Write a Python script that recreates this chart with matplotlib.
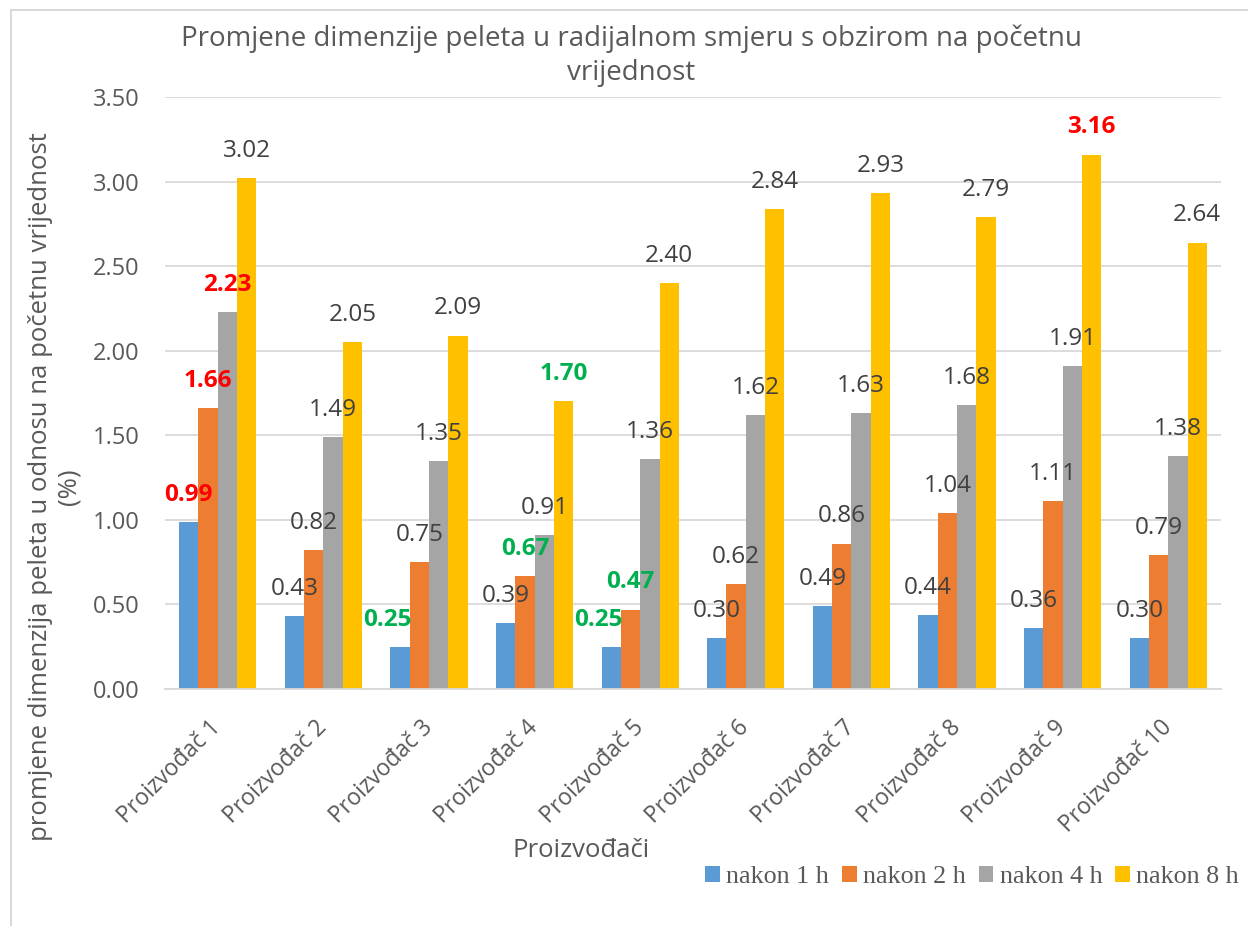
import matplotlib.pyplot as plt
import numpy as np
from matplotlib.lines import Line2D

# data
producers = ['Proizvođač %d' % i for i in range(1, 11)]
series_names = ['nakon 1 h', 'nakon 2 h', 'nakon 4 h', 'nakon 8 h']
after_1h = [0.99, 0.43, 0.25, 0.39, 0.25, 0.30, 0.49, 0.44, 0.36, 0.30]
after_2h = [1.66, 0.82, 0.75, 0.67, 0.47, 0.62, 0.86, 1.04, 1.11, 0.79]
after_4h = [2.23, 1.49, 1.35, 0.91, 1.36, 1.62, 1.63, 1.68, 1.91, 1.38]
after_8h = [3.02, 2.05, 2.09, 1.70, 2.40, 2.84, 2.93, 2.79, 3.16, 2.64]
y_ticks = [0.0, 0.5, 1.0, 1.5, 2.0, 2.5, 3.0, 3.5]

colors = ['#5B9BD5', '#ED7D31', '#A5A5A5', '#FFC000']
# highlighted labels: (series index, producer index) -> colour
red = '#FF0000'
green = '#00B050'
highlight = {(0, 0): red, (1, 0): red, (2, 0): red, (3, 8): red,
             (0, 2): green, (1, 3): green, (3, 3): green,
             (0, 4): green, (1, 4): green}
label_shift = {(0, 2): -9, (0, 4): -9}

txt_gray = '#595959'
lbl_gray = '#404040'
font = 'Open Sans'

fig = plt.figure(figsize=(12.48, 9.26), dpi=100)
ax = fig.add_axes([0.1322, 0.2559, 0.8462, 0.6393])

x = np.arange(len(producers))
w = 0.183
data = [after_1h, after_2h, after_4h, after_8h]
for i, vals in enumerate(data):
    pos = x + (i - 1.5) * w
    ax.bar(pos, vals, w, color=colors[i], label=series_names[i], zorder=2)
    for j, v in enumerate(vals):
        c = highlight.get((i, j))
        ax.annotate('%.2f' % v, xy=(pos[j], v),
                    xytext=(label_shift.get((i, j), 0), 19.5),
                    textcoords='offset points', ha='center', va='center',
                    fontsize=17.5, family=font,
                    color=c if c else lbl_gray,
                    fontweight='bold' if c else 'normal', zorder=3)

ax.set_xlim(-0.5, len(producers) - 0.5)
ax.set_ylim(0, 3.5)
ax.set_yticks(y_ticks)
ax.set_yticklabels(['%.2f' % t for t in y_ticks], family=font, fontsize=17,
                   color=txt_gray)
ax.set_xticks(x)
ax.set_xticklabels(producers, rotation=45, ha='right', va='center',
                   rotation_mode='anchor', family=font, fontsize=16.5,
                   color=txt_gray)
ax.tick_params(axis='both', length=0)
ax.tick_params(axis='x', pad=25)
ax.tick_params(axis='y', pad=18)
ax.grid(axis='y', color='#D9D9D9', linewidth=1.3, zorder=0)
for s in ['top', 'right', 'left']:
    ax.spines[s].set_visible(False)
ax.spines['bottom'].set_color('#D9D9D9')
ax.spines['bottom'].set_linewidth(1.3)

fig.text(0.506, 0.940,
         'Promjene dimenzije peleta u radijalnom smjeru s obzirom na početnu\nvrijednost',
         ha='center', va='center', fontsize=20, family=font, color=txt_gray,
         linespacing=1.3)
fig.text(0.044, 0.474,
         'promjene dimenzija peleta u odnosu na početnu vrijednost\n(%)',
         rotation=90, ha='center', va='center', fontsize=18.5, family=font,
         color=txt_gray, linespacing=1.2)
fig.text(0.466, 0.081, 'Proizvođači', ha='center', va='center',
         fontsize=18.5, family=font, color=txt_gray)

leg = ax.legend(loc='center', bbox_to_anchor=(0.779, 0.053),
                bbox_transform=fig.transFigure, ncol=4, frameon=False,
                prop={'family': 'Liberation Serif', 'size': 18.8},
                handlelength=0.55, handleheight=0.55, handletextpad=0.25,
                columnspacing=0.5)
for t in leg.get_texts():
    t.set_color(txt_gray)

# chart border (left and top edges visible)
fig.add_artist(Line2D([0.0085, 0.0085], [0.0, 0.989], color='#D9D9D9',
                      linewidth=1.5, transform=fig.transFigure))
fig.add_artist(Line2D([0.0085, 1.0], [0.989, 0.989], color='#D9D9D9',
                      linewidth=1.5, transform=fig.transFigure))

fig.savefig('out.png', dpi=100)
